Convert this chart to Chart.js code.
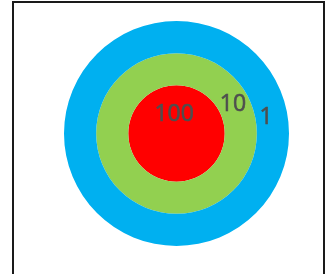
<!DOCTYPE html>
<html>
<head>
<meta charset="utf-8">
<script src="https://cdn.jsdelivr.net/npm/chart.js@4"></script>
<style>
  html, body { margin: 0; padding: 0; background: #fff; width: 331px; height: 274px; overflow: hidden; }
  #frame { position: absolute; left: 12px; top: 1px; width: 309px; height: 300px; border: 2px solid #1a1a1a; }
  #wrap { position: absolute; left: 64px; top: 21px; width: 225px; height: 225px; }
</style>
</head>
<body>
<div id="frame"></div>
<div id="wrap"><canvas id="chart"></canvas></div>
<script>
// outer ring first, inner disc last
const ringLabels = ['1', '10', '100'];
const ringValues = [1, 10, 100];
const ringColors = ['#00B0F0', '#92D050', '#FF0000'];
const ringWeights = [1, 1, 1.5];

// where each value label sits: angle in degrees (0 = right, negative = up) and
// fraction of the way from the ring's inner to outer edge
const labelSpots = [
  { angle: -10.4, frac: 0.33 },
  { angle: -27.6, frac: 0.48 },
  { angle: -97, frac: 0.4 },
];

const ringText = {
  id: 'ringText',
  afterDatasetsDraw(chart) {
    const ctx = chart.ctx;
    ctx.save();
    ctx.fillStyle = '#4f4f4f';
    ctx.strokeStyle = '#4f4f4f';
    ctx.lineWidth = 0.6;
    ctx.font = '23px "Open Sans", sans-serif';
    ctx.textAlign = 'center';
    ctx.textBaseline = 'middle';
    chart.data.datasets.forEach(function (ds, i) {
      const arc = chart.getDatasetMeta(i).data[0];
      const spot = labelSpots[i];
      const r = arc.innerRadius + (arc.outerRadius - arc.innerRadius) * spot.frac;
      const a = spot.angle * Math.PI / 180;
      const x = arc.x + r * Math.cos(a);
      const y = arc.y + r * Math.sin(a);
      ctx.fillText(ringLabels[i], x, y);
      ctx.strokeText(ringLabels[i], x, y);
    });
    ctx.restore();
  }
};

new Chart(document.getElementById('chart').getContext('2d'), {
  type: 'pie',
  data: {
    labels: [''],
    datasets: ringValues.map(function (v, i) {
      return {
        label: ringLabels[i],
        data: [v],
        backgroundColor: ringColors[i],
        borderWidth: 0,
        weight: ringWeights[i],
      };
    })
  },
  options: {
    responsive: true,
    maintainAspectRatio: false,
    animation: false,
    layout: { padding: 0 },
    plugins: {
      legend: { display: false },
      tooltip: { enabled: false },
    },
  },
  plugins: [ringText],
});
</script>
</body>
</html>
